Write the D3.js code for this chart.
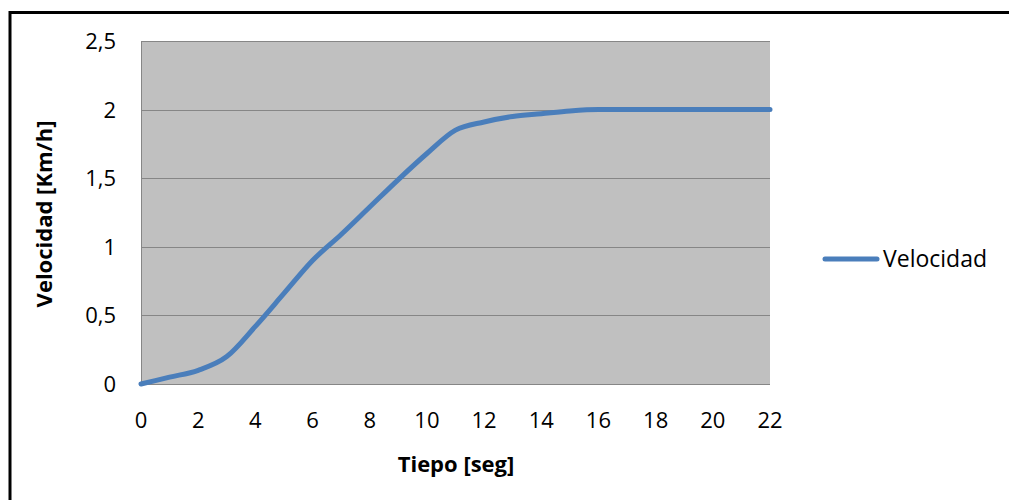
<!DOCTYPE html>
<html>
<head>
<meta charset="utf-8">
<script src="https://cdn.jsdelivr.net/npm/d3@7"></script>
<style>
  body { margin: 0; background: #fff; }
  text { font-family: "Open Sans", sans-serif; fill: #000; }
</style>
</head>
<body>
<svg width="1009" height="500"></svg>
<script>
const tiempo = [0, 1, 2, 3, 4, 5, 6, 7, 8, 9, 10, 11, 12, 13, 14, 15, 16, 17, 18, 19, 20, 21, 22];
const velocidad = [0, 0.05, 0.1, 0.2, 0.42, 0.66, 0.9, 1.09, 1.29, 1.49, 1.68, 1.85, 1.91, 1.95, 1.97, 1.99, 2, 2, 2, 2, 2, 2, 2];
const xTicks = [0, 2, 4, 6, 8, 10, 12, 14, 16, 18, 20, 22];
const yTicks = [0, 0.5, 1, 1.5, 2, 2.5];
const seriesName = "Velocidad";

const svg = d3.select("svg");

// outer frame (right and bottom edges run off the picture)
svg.append("rect")
  .attr("x", 10).attr("y", 12.5)
  .attr("width", 1100).attr("height", 600)
  .attr("fill", "none")
  .attr("stroke", "#000")
  .attr("stroke-width", 3);

const x = d3.scaleLinear().domain([0, 22]).range([141, 770]);
const y = d3.scaleLinear().domain([0, 2.5]).range([384, 41]);
const fmt = d => String(d).replace(".", ",");

svg.append("rect")
  .attr("x", x(0)).attr("y", y(2.5))
  .attr("width", x(22) - x(0)).attr("height", y(0) - y(2.5))
  .attr("fill", "#c0c0c0");

svg.append("g")
  .selectAll("line")
  .data(yTicks)
  .join("line")
    .attr("x1", x(0)).attr("x2", x(22))
    .attr("y1", d => Math.round(y(d)) + 0.5)
    .attr("y2", d => Math.round(y(d)) + 0.5)
    .attr("stroke", "#868686")
    .attr("stroke-width", 1);

svg.append("line")
  .attr("x1", x(0) + 0.5).attr("x2", x(0) + 0.5)
  .attr("y1", y(2.5)).attr("y2", y(0))
  .attr("stroke", "#868686");

svg.append("g")
  .selectAll("text")
  .data(yTicks)
  .join("text")
    .attr("x", 116)
    .attr("y", d => y(d) + 8)
    .attr("text-anchor", "end")
    .attr("font-size", 22)
    .text(fmt);

svg.append("g")
  .selectAll("text")
  .data(xTicks)
  .join("text")
    .attr("x", d => x(d))
    .attr("y", 428)
    .attr("text-anchor", "middle")
    .attr("font-size", 22)
    .text(fmt);

svg.append("text")
  .attr("x", 456).attr("y", 472)
  .attr("text-anchor", "middle")
  .attr("font-size", 22)
  .attr("font-weight", "bold")
  .text("Tiepo [seg]");

svg.append("text")
  .attr("transform", "translate(44,214) rotate(-90)")
  .attr("text-anchor", "middle")
  .attr("dy", "0.35em")
  .attr("font-size", 22)
  .attr("font-weight", "bold")
  .text("Velocidad [Km/h]");

const line = d3.line()
  .x((d, i) => x(tiempo[i]))
  .y(d => y(d))
  .curve(d3.curveMonotoneX);

svg.append("path")
  .datum(velocidad)
  .attr("d", line)
  .attr("fill", "none")
  .attr("stroke", "#4a7ebb")
  .attr("stroke-width", 5)
  .attr("stroke-linecap", "round");

// legend
svg.append("line")
  .attr("x1", 825).attr("x2", 877)
  .attr("y1", 259).attr("y2", 259)
  .attr("stroke", "#4a7ebb")
  .attr("stroke-width", 5)
  .attr("stroke-linecap", "round");

svg.append("text")
  .attr("x", 883).attr("y", 267)
  .attr("font-size", 23)
  .text(seriesName);
</script>
</body>
</html>
